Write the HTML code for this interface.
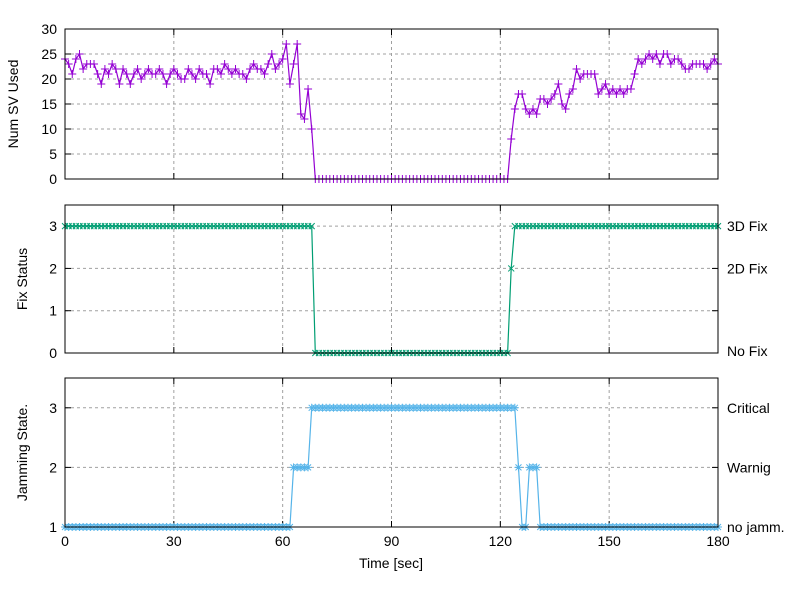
<!DOCTYPE html>
<html><head><meta charset="utf-8"><style>body{margin:0;background:#fff}svg{display:block}text{font-family:"Liberation Sans",sans-serif;font-size:14px;fill:#000}</style></head>
<body><svg id="s" width="800" height="600" xmlns="http://www.w3.org/2000/svg"></svg>
<script>
const s=document.getElementById('s');let h='';
const X0=65,X1=718,xs=t=>X0+(X1-X0)*t/180;
const sv=[24,23,21,24,25,22,23,23,23,21,19,22,21,23,22,19,22,21,19,21,22,20,21,22,21,21,22,21,19,21,22,21,20,20,22,21,20,22,21,21,19,22,22,21,23,22,21,22,21,21,20,22,23,22,22,21,23,25,22,23,24,27,19,23,27,13,12,18,10];
while(sv.length<123)sv.push(0);
sv.push(8,14,17,17,14,13,14,13,16,16,15,16,17,19,15,14,17,18,22,20,21,21,21,21,17,18,19,17,18,17,18,17,18,18,21,24,23,24,25,24,25,23,25,25,23,24,24,23,22,22,23,23,23,23,22,23,24,23);
const fx=[],jm=[];
for(let t=0;t<=180;t++){fx.push(t<=68?3:t<=122?0:t==123?2:3);
jm.push(t<=62?1:t<=67?2:t<=124?3:t==125?2:t<=127?1:t<=130?2:1);}
function panel(y0,y1,ymin,ymax,ticks,lab,data,col,mk,right){
 const ys=v=>y1-(y1-y0)*(v-ymin)/(ymax-ymin);
 for(const v of ticks){const y=ys(v);
  if(v!=ymin&&v!=ymax)h+=`<line x1="${X0}" x2="${X1}" y1="${y}" y2="${y}" stroke="#a0a0a0" stroke-dasharray="3,3"/>`;
  h+=`<line x1="${X0}" x2="${X0+6}" y1="${y}" y2="${y}" stroke="#000"/><line x1="${X1}" x2="${X1-6}" y1="${y}" y2="${y}" stroke="#000"/>`;
  h+=`<text x="${X0-8}" y="${y+5}" text-anchor="end">${v}</text>`;}
 for(const t of [30,60,90,120,150]){const x=xs(t);h+=`<line x1="${x}" x2="${x}" y1="${y0}" y2="${y1}" stroke="#a0a0a0" stroke-dasharray="3,3"/>`;
  h+=`<line x1="${x}" x2="${x}" y1="${y1}" y2="${y1-6}" stroke="#000"/><line x1="${x}" x2="${x}" y1="${y0}" y2="${y0+6}" stroke="#000"/>`;}
 let p='';data.forEach((v,t)=>p+=(t?'L':'M')+xs(t).toFixed(1)+','+ys(v).toFixed(1));
 h+=`<path d="${p}" fill="none" stroke="${col}" stroke-width="1.2"/>`;
 let m='';data.forEach((v,t)=>{const x=xs(t),y=ys(v);if(mk!='x')m+=`M${x-4},${y}h8M${x},${y-4}v8`;if(mk!='+')m+=`M${x-3},${y-3}l6,6M${x-3},${y+3}l6,-6`;});
 h+=`<path d="${m}" fill="none" stroke="${col}" stroke-width="1"/>`;
 h+=`<rect x="${X0}" y="${y0}" width="${X1-X0}" height="${y1-y0}" fill="none" stroke="#000"/>`;
 h+=`<text transform="translate(${lab[0]},${(y0+y1)/2}) rotate(-90)" text-anchor="middle">${lab[1]}</text>`;
 if(right)for(const [v,tx] of right)h+=`<text x="727" y="${ys(v)+5}">${tx}</text>`;
}
panel(29,179,0,30,[0,5,10,15,20,25,30],[18,'Num SV Used'],sv,'#9400d3','+');
panel(205,353,0,3.5,[0,1,2,3],[27,'Fix Status'],fx,'#009e73','x',[[3,'3D Fix'],[2,'2D Fix'],[0.05,'No Fix']]);
panel(378,527,1,3.5,[1,2,3],[27,'Jamming State.'],jm,'#56b4e9','*',[[3,'Critical'],[2,'Warnig'],[1,'no jamm.']]);
for(const t of [0,30,60,90,120,150,180])h+=`<text x="${xs(t)}" y="546" text-anchor="middle">${t}</text>`;
h+=`<text x="391" y="568" text-anchor="middle">Time [sec]</text>`;
s.innerHTML=h;
</script></body></html>
